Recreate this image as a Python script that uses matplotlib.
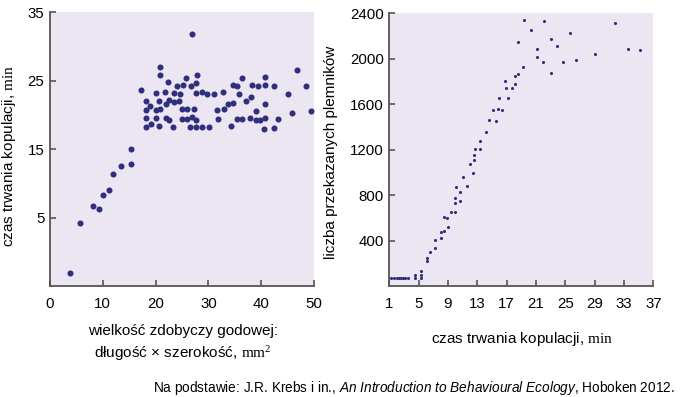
import matplotlib
matplotlib.use("Agg")
import matplotlib.pyplot as plt

# left panel: prey size vs copulation time
prey_size = [3.8, 5.7, 8.2, 9.3, 10.0, 11.2, 11.9, 13.4, 15.3, 15.4, 17.2, 26.9,
             18.1, 18.1, 18.1, 18.1, 18.9, 19.1, 20.0, 20.0, 20.0, 20.6, 20.6, 20.8,
             20.9, 20.9, 21.8, 21.9, 21.9, 22.4, 22.5, 22.5, 23.3, 23.4, 23.4, 24.1,
             24.4, 24.6, 25.0, 25.0, 25.1, 25.8, 25.9, 26.0, 26.6, 26.7, 26.9, 27.2,
             27.7, 27.8, 27.6, 27.7, 27.7, 28.7, 28.7, 29.8, 30.2, 31.1, 31.6, 31.9,
             32.8, 33.0, 33.7, 34.3, 34.6, 34.6, 35.5, 35.4, 35.8, 36.4, 36.4, 37.1,
             37.9, 38.0, 38.2, 39.1, 39.0, 39.3, 39.8, 40.7, 40.7, 40.8, 40.8, 40.5,
             42.4, 42.5, 43.1, 45.0, 45.8, 46.7, 48.5, 49.4]
cop_time = [-3.1, 4.2, 6.7, 6.3, 8.3, 9.1, 11.3, 12.6, 12.9, 15.0, 23.7, 31.8,
            22.1, 20.7, 19.5, 18.2, 21.3, 18.7, 23.2, 20.7, 19.5, 22.1, 18.4, 20.8,
            27.0, 25.8, 23.3, 21.6, 19.5, 24.8, 22.2, 19.2, 18.2, 23.2, 21.9, 24.3,
            22.0, 23.1, 20.9, 19.4, 24.4, 25.4, 19.4, 20.8, 18.3, 24.2, 19.7, 20.8,
            24.7, 25.8, 23.2, 18.2, 19.3, 23.3, 18.2, 23.1, 18.2, 23.1, 20.7, 19.4,
            23.4, 20.8, 21.6, 18.4, 24.4, 21.7, 24.2, 19.4, 23.1, 25.4, 19.4, 22.0,
            19.6, 22.6, 24.4, 20.6, 19.2, 24.2, 19.2, 25.5, 24.4, 21.6, 19.6, 17.9,
            18.1, 24.3, 19.4, 23.0, 20.3, 26.5, 24.3, 20.6]

# right panel: copulation time vs sperm transferred
cop_minutes = [1.3, 1.6, 2.0, 2.3, 2.6, 2.9, 3.2, 3.6, 4.5, 4.5, 5.3, 5.3, 5.3,
               6.1, 6.1, 6.6, 7.3, 7.3, 8.0, 8.0, 8.4, 8.5, 8.9, 9.0, 9.4, 9.9,
               9.9, 9.9, 10.1, 10.6, 10.6, 11.1, 11.6, 12.0, 12.4, 12.5, 12.5, 12.7,
               13.4, 13.4, 14.2, 14.6, 15.1, 15.5, 15.8, 15.9, 16.4, 16.8, 16.9, 17.2,
               17.7, 18.1, 18.2, 18.6, 18.5, 19.2, 19.4, 20.3, 21.1, 21.2, 22.0, 22.1,
               23.0, 23.0, 23.9, 24.7, 25.6, 26.5, 29.1, 31.8, 33.6, 35.2]
sperm_count = [67, 67, 67, 67, 67, 67, 67, 67, 96, 67, 134, 96, 67,
               248, 219, 298, 409, 333, 476, 423, 608, 488, 599, 520, 651, 651,
               727, 777, 868, 827, 751, 958, 882, 1073, 994, 1151, 1108, 1207,
               1207, 1280, 1359, 1464, 1552, 1450, 1558, 1657, 1546, 1806, 1739, 1651,
               1742, 1844, 1774, 1862, 2151, 1926, 2339, 2251, 2017, 2087, 1970, 2330,
               2172, 1877, 2111, 1973, 2227, 1985, 2043, 2315, 2084, 2078]

left_xticks = [0, 10, 20, 30, 40, 50]
left_yticks = [5, 15, 25, 35]
right_xticks = [1, 5, 9, 13, 17, 21, 25, 29, 33, 37]
right_yticks = [400, 800, 1200, 1600, 2000, 2400]

BG = "#ebe6f2"
DOT = "#2f2f7e"
AXIS = "#555555"

plt.rcParams["font.family"] = ["Liberation Sans", "DejaVu Sans"]
plt.rcParams["mathtext.fontset"] = "custom"
plt.rcParams["mathtext.rm"] = "Liberation Serif"
plt.rcParams["mathtext.it"] = "Liberation Sans:italic"


def style_axes(ax):
    ax.set_facecolor(BG)
    for side in ("top", "right"):
        ax.spines[side].set_visible(False)
    for side in ("left", "bottom"):
        ax.spines[side].set_color(AXIS)
        ax.spines[side].set_linewidth(1.3)
    ax.tick_params(direction="in", length=4, width=1.2, color=AXIS,
                   labelsize=10.8, labelcolor="black")
    ax.tick_params(axis="x", pad=8)
    ax.tick_params(axis="y", pad=4)


fig = plt.figure(figsize=(6.85, 3.97), dpi=100)

ax1 = fig.add_axes([0.0730, 0.2796, 0.3854, 0.6894])
style_axes(ax1)
ax1.scatter(prey_size, cop_time, s=19, color=DOT, linewidths=0, zorder=3)
ax1.set_xlim(0, 50)
ax1.set_ylim(-5, 35)
ax1.set_xticks(left_xticks)
ax1.set_yticks(left_yticks)
ax1.set_ylabel(r"czas trwania kopulacji, $\mathrm{min}$", fontsize=11)
ax1.yaxis.set_label_coords(-0.121, 0.475)

ax2 = fig.add_axes([0.5683, 0.2796, 0.3854, 0.6869])
style_axes(ax2)
ax2.scatter(cop_minutes, sperm_count, s=5, color=DOT, linewidths=0, zorder=3)
ax2.set_xlim(1, 37)
ax2.set_ylim(0, 2400)
ax2.set_xticks(right_xticks)
ax2.set_yticks(right_yticks)
ax2.set_ylabel("liczba przekazanych plemników", fontsize=11)
ax2.yaxis.set_label_coords(-0.194, 0.491)

fig.text(183 / 685, 1 - 331 / 397, "wielkość zdobyczy godowej:",
         ha="center", va="center", fontsize=11)
fig.text(183 / 685, 1 - 353 / 397, r"długość × szerokość, $\mathrm{mm}^2$",
         ha="center", va="center", fontsize=11)
fig.text(522 / 685, 1 - 339 / 397, r"czas trwania kopulacji, $\mathrm{min}$",
         ha="center", va="center", fontsize=11)
fig.text(675 / 685, 1 - 388 / 397,
         r"Na podstawie: J.R. Krebs i in., "
         r"$\mathit{An\ Introduction\ to\ Behavioural\ Ecology}$, Hoboken 2012.",
         ha="right", va="center", fontsize=9.8)

fig.savefig("out.png", dpi=100)
